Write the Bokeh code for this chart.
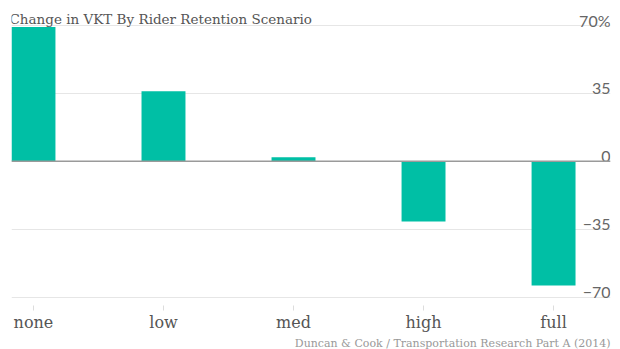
from bokeh.plotting import figure
from bokeh.models import Range1d, FixedTicker, Grid, Span, Label, Title, ColumnDataSource
from bokeh.core.properties import value
from bokeh.embed import file_html
from bokeh.resources import INLINE

# ---- data ----
categories = ["none", "low", "med", "high", "full"]
vkt_change = [69, 36, 2, -31, -64]
y_ticks = [-70, -35, 0, 35, 70]
y_tick_labels = ["\u221270", "\u221235", "0", "35", "70%"]
title_text = "Change in VKT By Rider Retention Scenario"
source_text = "Duncan & Cook / Transportation Research Part A (2014)"

BAR = "#00BFA5"
SERIF = "DejaVu Serif"
SANS = "Lato"

x_pos = list(range(len(categories)))
x_start, x_end = -0.169, 4.438
y_start, y_end = -74.3, 82.7

p = figure(width=620, height=349, output_backend="svg", toolbar_location=None,
           x_range=Range1d(x_start, x_end), y_range=Range1d(y_start, y_end),
           y_axis_location=None, min_border_left=11, min_border_right=10,
           min_border_top=0, min_border_bottom=44)
p.outline_line_color = None
p.background_fill_color = "white"
p.border_fill_color = "white"
p.grid.visible = False

p.add_layout(Grid(dimension=1, ticker=FixedTicker(ticks=y_ticks),
                  grid_line_color="#e6e6e6", grid_line_width=1))

src = ColumnDataSource(dict(x=x_pos, top=vkt_change))
p.vbar(x="x", top="top", bottom=0, width=0.338, source=src,
       fill_color=BAR, line_color=None)

p.add_layout(Span(location=0, dimension="width", line_color="#9a9a9a", line_width=1.5))

# y tick labels sitting on top of their grid lines, right-aligned
lab_src = ColumnDataSource(dict(x=[x_end] * len(y_ticks), y=y_ticks, t=y_tick_labels))
p.text(x="x", y="y", text="t", source=lab_src, text_align="right",
       text_baseline="alphabetic", y_offset=-5, text_font=value(SANS),
       text_font_size="16px", text_color="#666666")

# x axis
xa = p.xaxis[0]
xa.ticker = FixedTicker(ticks=x_pos)
xa.major_label_overrides = {i: c for i, c in zip(x_pos, categories)}
xa.axis_line_color = None
xa.major_tick_out = 5
xa.major_tick_in = 0
xa.major_tick_line_color = "#dddddd"
xa.minor_tick_line_color = None
xa.major_label_standoff = 2
xa.major_label_text_font = SERIF
xa.major_label_text_font_size = "16px"
xa.major_label_text_color = "#555555"

p.add_layout(Label(x=x_start, y=y_end, x_offset=-2, y_offset=-18, text=title_text,
                   text_font=SERIF, text_font_size="13.5px", text_color="#555555",
                   text_baseline="alphabetic", text_align="left"))

p.add_layout(Title(text=source_text, align="right", text_font=SERIF,
                   text_font_size="11px", text_color="#999999",
                   text_font_style="normal", standoff=0), "below")

open("out.html", "w").write(file_html(p, INLINE))
